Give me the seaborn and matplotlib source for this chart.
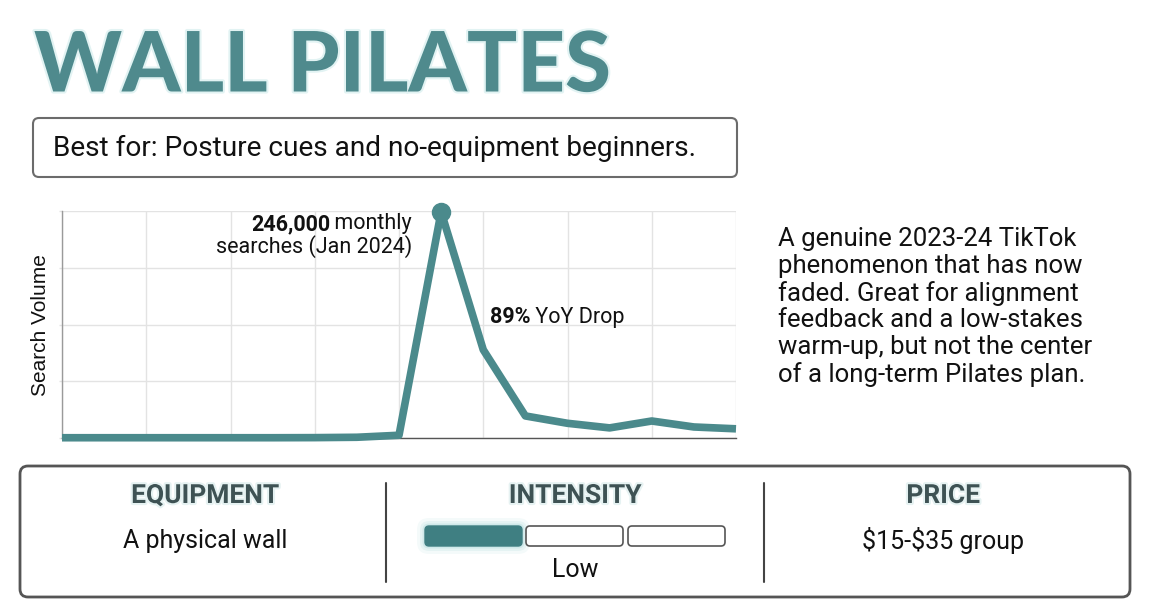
import numpy as np
import pandas as pd
import matplotlib
matplotlib.use("Agg")
import matplotlib.pyplot as plt
import matplotlib.patheffects as pe
from matplotlib.patches import FancyBboxPatch
import seaborn as sns

# ---------------------------------------------------------------- data
periods = ["Q4 2021", "Q1 2022", "Q2 2022", "Q3 2022", "Q4 2022", "Q1 2023",
           "Q2 2023", "Q3 2023", "Q4 2023", "Jan 2024", "Q2 2024", "Q3 2024",
           "Q4 2024", "Q1 2025", "Q2 2025", "Q3 2025", "Q4 2025"]
searches = [300, 300, 300, 300, 300, 300, 400, 800, 3000, 246000,
            96000, 24000, 16000, 11000, 18500, 12000, 10000]
peak_label = "246,000"
drop_label = "89%"
info_heads = ["EQUIPMENT", "INTENSITY", "PRICE"]
info_values = ["A physical wall", None, "$15-$35 group"]
intensity_level = 1
intensity_steps = 3
intensity_text = "Low"

TEAL = "#4b8a8c"
W, H = 1152, 611

sns.set_theme(style="white")
plt.rcParams["font.family"] = ["Roboto", "DejaVu Sans"]

fig = plt.figure(figsize=(W / 100, H / 100), dpi=100)
fig.patch.set_facecolor("white")

# ---------------------------------------------------------------- chart
ax = fig.add_axes([62 / W, (H - 438) / H, 674 / W, 227 / H])
df = pd.DataFrame({"period": periods, "searches": searches})
df["pos"] = np.arange(len(df))
sns.lineplot(data=df, x="pos", y="searches", ax=ax, color=TEAL,
             linewidth=5.5, solid_joinstyle="round", solid_capstyle="butt",
             clip_on=False, zorder=3)
pk = int(np.argmax(searches))
ax.plot(df["pos"][pk], df["searches"][pk], "o", color=TEAL, ms=13,
        clip_on=False, zorder=4)
ax.set_xlim(0, len(df) - 1)
ax.set_ylim(0, 247000)
ax.set_xticks(np.arange(0, len(df), 2))
ax.set_yticks(np.linspace(0, 247000, 5))
ax.set_xticklabels([])
ax.set_yticklabels([])
ax.grid(True, color="#e3e3e3", linewidth=1)
ax.tick_params(axis="y", left=True, length=2, width=1, color="#e3e3e3")
ax.tick_params(axis="x", bottom=False)
for s in ["top", "right"]:
    ax.spines[s].set_visible(False)
ax.spines["left"].set_color("#9a9a9a")
ax.spines["left"].set_linewidth(1)
ax.spines["bottom"].set_color("#555555")
ax.spines["bottom"].set_linewidth(1)
ax.set_xlabel("")
ax.set_ylabel("")
ax.set_facecolor("white")

# overlay in pixel coordinates, drawn above the chart
ov = fig.add_axes([0, 0, 1, 1])
ov.set_xlim(0, W)
ov.set_ylim(H, 0)
ov.axis("off")
ov.patch.set_visible(False)
ov.set_zorder(5)

renderer = fig.canvas.get_renderer()


def runs(x, y, parts, size, ha="left"):
    # draw text pieces one after another, pixel coords
    objs = []
    for txt, wt in parts:
        objs.append(ov.text(0, y, txt, fontsize=size, fontweight=wt,
                            va="center", ha="left", color="#111111"))
    widths = [o.get_window_extent(renderer).width for o in objs]
    total = sum(widths)
    cx = x - total if ha == "right" else x
    for o, w in zip(objs, widths):
        o.set_x(cx)
        cx += w


runs(412, 224, [(peak_label, "bold"), ("\u2009monthly", "normal")], 15.5,
     ha="right")
ov.text(412, 247, "searches (" + periods[pk] + ")", fontsize=15.5, ha="right",
        va="center", color="#111111")
runs(490, 317, [(drop_label, "bold"), (" YoY Drop", "normal")], 15.5)
ov.text(40, 325, "Search Volume", fontsize=15, rotation=90, ha="center",
        va="center", color="#111111", family=["Liberation Sans"])

# ---------------------------------------------------------------- title
ov.text(34, 67, "WALL PILATES", fontsize=60, fontweight="black",
        family=["Lato", "DejaVu Sans"], color="#4f8a8d", va="center",
        ha="left",
        path_effects=[pe.withStroke(linewidth=3, foreground="#e2f3f3")])

ov.add_patch(FancyBboxPatch((33, 118), 704, 59,
                            boxstyle="round,pad=0,rounding_size=6",
                            fc="white", ec="#6b6b6b", lw=1.5))
ov.text(53, 148, "Best for: Posture cues and no-equipment beginners.",
        fontsize=20.2, va="center", ha="left", color="#111111")

ov.text(778, 307, "A genuine 2023-24 TikTok\nphenomenon that has now\n"
        "faded. Great for alignment\nfeedback and a low-stakes\n"
        "warm-up, but not the center\nof a long-term Pilates plan.",
        fontsize=18.5, va="center", ha="left", linespacing=1.14,
        color="#111111")

# ---------------------------------------------------------------- info panel
ov.add_patch(FancyBboxPatch((20, 466), 1110, 131,
                            boxstyle="round,pad=0,rounding_size=8",
                            fc="white", ec="#555555", lw=2))
for xd in [386, 764]:
    ov.plot([xd, xd], [483, 582], color="#444444", lw=1.5)
col_x = [205, 575, 943]
for cx, head, val in zip(col_x, info_heads, info_values):
    ov.text(cx, 496, head, fontsize=19, fontweight="bold", color="#3e5254",
            ha="center", va="center",
            path_effects=[pe.withStroke(linewidth=3, foreground="#e6f2f2")])
    if val is not None:
        ov.text(cx, 541, val, fontsize=18, ha="center", va="center",
                color="#111111", parse_math=False)

bar_x = [425, 526, 628]
bar_w = 97
for i in range(intensity_steps):
    if i < intensity_level:
        for g, a in [(8, 0.08), (5, 0.12), (2.5, 0.2)]:
            ov.add_patch(FancyBboxPatch((bar_x[i] - g, 526 - g), bar_w + 2 * g,
                                        20 + 2 * g,
                                        boxstyle="round,pad=0,rounding_size=%g" % (4 + g),
                                        fc="#7fc4c6", ec="none", alpha=a))
        ov.add_patch(FancyBboxPatch((bar_x[i], 526), bar_w, 20,
                                    boxstyle="round,pad=0,rounding_size=4",
                                    fc="#3f7f82", ec="#3f7f82", lw=1))
    else:
        ov.add_patch(FancyBboxPatch((bar_x[i], 526), bar_w, 20,
                                    boxstyle="round,pad=0,rounding_size=4",
                                    fc="white", ec="#555555", lw=1.2))
ov.text(575, 570, intensity_text, fontsize=18, ha="center", va="center",
        color="#111111")

fig.savefig("out.png", dpi=100, facecolor="white")
